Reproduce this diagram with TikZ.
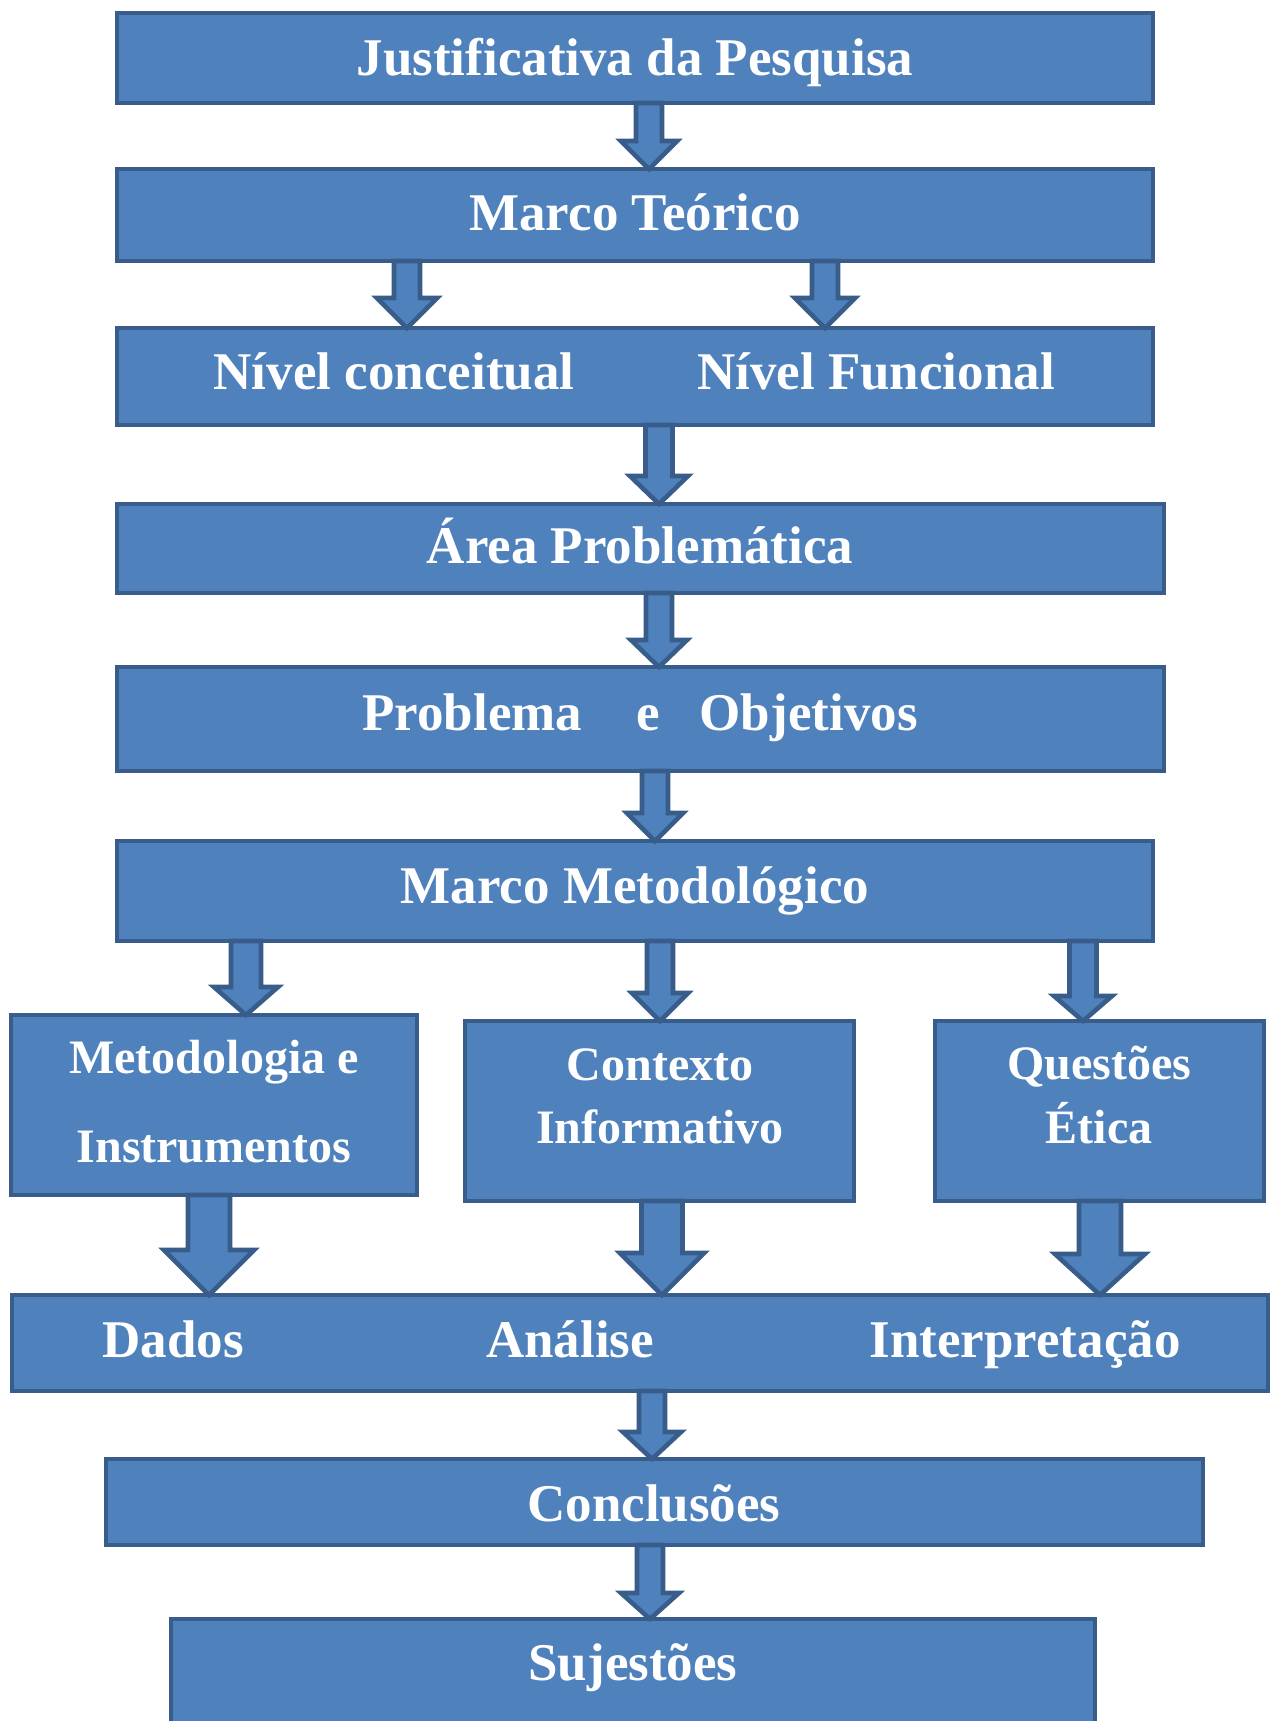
\documentclass[tikz,border=0pt]{standalone}
\usepackage{fontspec}
\setmainfont{Liberation Serif}
\usetikzlibrary{calc}
\definecolor{boxfill}{HTML}{4F81BD}
\definecolor{boxline}{HTML}{385D8A}
\tikzset{
  box/.style={draw=boxline, fill=boxfill, line width=2.4pt, rectangle, anchor=north west, inner sep=0pt, outer sep=0pt},
  barrow/.style={draw=boxline, fill=boxfill, line width=2.3pt, line join=miter},
  lbl/.style={anchor=base, text=white, font=\bfseries\fontsize{26.5pt}{32pt}\selectfont, inner sep=0pt},
  slbl/.style={anchor=base, text=white, font=\bfseries\fontsize{24pt}{29pt}\selectfont, inner sep=0pt}
}
\newcommand{\blockarrow}[5]{%
  \draw[barrow] ($(#1)+(-#3,0)$) -- ($(#2)+(-#3,-#5)$) -- ($(#2)+(-#4,-#5)$) -- (#2) -- ($(#2)+(#4,-#5)$) -- ($(#2)+(#3,-#5)$) -- ($(#1)+(#3,0)$) -- cycle;}
\begin{document}
\begin{tikzpicture}[x=0.5pt, y=-0.5pt]
\clip (0,0) rectangle (1271,1721);
\fill[white] (0,0) rectangle (1271,1721);
% boxes
\node[box, minimum width=518pt, minimum height=45pt] (b1) at (117,13) {};
\node[box, minimum width=518pt, minimum height=46pt] (b2) at (117,169) {};
\node[box, minimum width=518pt, minimum height=48.5pt] (b3) at (117,328) {};
\node[box, minimum width=523.5pt, minimum height=44.5pt] (b4) at (117,504) {};
\node[box, minimum width=523.5pt, minimum height=52pt] (b5) at (117,667) {};
\node[box, minimum width=518pt, minimum height=50pt] (b6) at (117,841) {};
\node[box, minimum width=203pt, minimum height=90pt] (b7a) at (11,1015) {};
\node[box, minimum width=194.5pt, minimum height=90pt] (b7b) at (465,1021) {};
\node[box, minimum width=164.5pt, minimum height=90pt] (b7c) at (935,1021) {};
\node[box, minimum width=628pt, minimum height=48pt] (b8) at (12,1295) {};
\node[box, minimum width=548.5pt, minimum height=43pt] (b9) at (106,1459) {};
\node[box, minimum width=462pt, minimum height=62pt] (b10) at (171,1619) {};
% texts
\node[lbl] (t1) at (635,75) {Justificativa da Pesquisa};
\node[lbl] (t2) at (635,230) {Marco Teórico};
\node[lbl] (t3a) at (394,389) {Nível conceitual};
\node[lbl] (t3b) at (876,389) {Nível Funcional};
\node[lbl] (t4) at (640,563) {Área Problemática};
\node[lbl] (t5) at (640,730) {Problema\hspace{27pt}e\hspace{20pt}Objetivos};
\node[lbl] (t6) at (635,903) {Marco Metodológico};
\node[slbl] (t7a1) at (214,1073) {Metodologia e};
\node[slbl] (t7a2) at (214,1162) {Instrumentos};
\node[slbl] (t7b1) at (660,1080) {Contexto};
\node[slbl] (t7b2) at (660,1143) {Informativo};
\node[slbl] (t7c1) at (1099,1079) {Questões};
\node[slbl] (t7c2) at (1099,1143) {Ética};
\node[lbl] (t8a) at (173,1357) {Dados};
\node[lbl] (t8b) at (570,1357) {Análise};
\node[lbl] (t8c) at (1025,1357) {Interpretação};
\node[lbl] (t9) at (654,1521) {Conclusões};
\node[lbl] (t10) at (633,1680) {Sujestões};
% arrow x positions
\coordinate (x1) at (649,0);
\coordinate (x2a) at (407,0);
\coordinate (x2b) at (825,0);
\coordinate (x3) at (659,0);
\coordinate (x4) at (659,0);
\coordinate (x5) at (655,0);
\coordinate (x6a) at (246,0);
\coordinate (x6b) at (660,0);
\coordinate (x6c) at (1083,0);
\coordinate (x7a) at (209,0);
\coordinate (x7b) at (662,0);
\coordinate (x7c) at (1100,0);
\coordinate (x8) at (652,0);
\coordinate (x9) at (650,0);
% arrows
\blockarrow{x1 |- b1.south}{x1 |- b2.north}{13}{28}{28}
\blockarrow{x2a |- b2.south}{x2a |- b3.north}{13}{30}{30}
\blockarrow{x2b |- b2.south}{x2b |- b3.north}{13}{30}{30}
\blockarrow{x3 |- b3.south}{x3 |- b4.north}{13.5}{29}{28}
\blockarrow{x4 |- b4.south}{x4 |- b5.north}{13}{28}{27}
\blockarrow{x5 |- b5.south}{x5 |- b6.north}{13}{28}{28}
\blockarrow{x6a |- b6.south}{x6a |- b7a.north}{15}{32}{28}
\blockarrow{x6b |- b6.south}{x6b |- b7b.north}{13}{28}{28}
\blockarrow{x6c |- b6.south}{x6c |- b7c.north}{13.5}{29}{25}
\blockarrow{x7a |- b7a.south}{x7a |- b8.north}{21}{45}{45}
\blockarrow{x7b |- b7b.south}{x7b |- b8.north}{20.5}{42}{42}
\blockarrow{x7c |- b7c.south}{x7c |- b8.north}{21}{45}{41}
\blockarrow{x8 |- b8.south}{x8 |- b9.north}{13}{29}{27}
\blockarrow{x9 |- b9.south}{x9 |- b10.north}{13}{29}{26}
\end{tikzpicture}
\end{document}
